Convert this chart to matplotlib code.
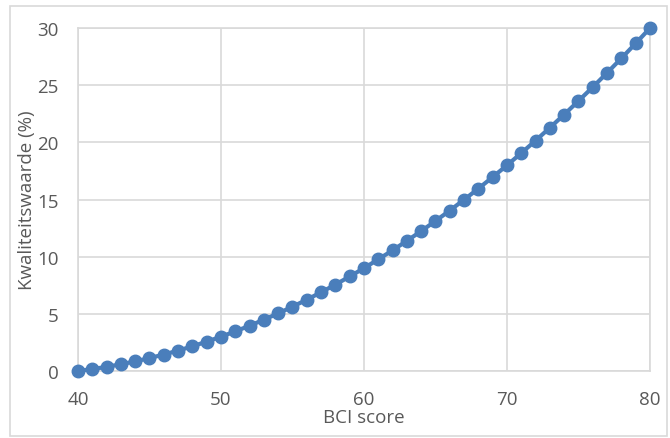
import matplotlib.pyplot as plt
from matplotlib.patches import Rectangle

# BCI score vs kwaliteitswaarde (%)
bci = list(range(40, 81))
kwaliteit = [0.0, 0.17, 0.36, 0.59, 0.84, 1.13, 1.44, 1.79, 2.16, 2.57,
             3.0, 3.47, 3.96, 4.49, 5.04, 5.63, 6.24, 6.89, 7.56, 8.27,
             9.0, 9.77, 10.56, 11.39, 12.24, 13.13, 14.04, 14.99, 15.96, 16.97,
             18.0, 19.07, 20.16, 21.29, 22.44, 23.63, 24.84, 26.09, 27.36, 28.67,
             30.0]
xticks = [40, 50, 60, 70, 80]
yticks = [0, 5, 10, 15, 20, 25, 30]

plt.rcParams['font.family'] = ['Open Sans', 'DejaVu Sans']

fig = plt.figure(figsize=(6.7, 4.39), dpi=100)
ax = fig.add_axes([0.1164, 0.1526, 0.8537, 0.781])

# outer chart border
fig.patches.append(Rectangle((10 / 670, 2 / 439), 657 / 670, 430 / 439,
                             transform=fig.transFigure, fill=False,
                             edgecolor='#d9d9d9', lw=1.2))

ax.plot(bci, kwaliteit, color='#4a7ebb', lw=3, marker='o', ms=9,
        clip_on=False, zorder=3)

ax.set_xlim(40, 80)
ax.set_ylim(0, 30)
ax.set_xticks(xticks)
ax.set_yticks(yticks)
ax.grid(True, color='#d9d9d9', lw=1.2)
ax.set_axisbelow(True)
for s in ax.spines.values():
    s.set_color('#d9d9d9')
    s.set_linewidth(1.2)
ax.tick_params(length=0, labelsize=13.5, colors='#595959', pad=14)

ax.set_xlabel('BCI score', fontsize=13.5, color='#595959', labelpad=0)
ax.set_ylabel('Kwaliteitswaarde (%)', fontsize=13.5, color='#595959', labelpad=1)

plt.savefig('out.png', dpi=100)
